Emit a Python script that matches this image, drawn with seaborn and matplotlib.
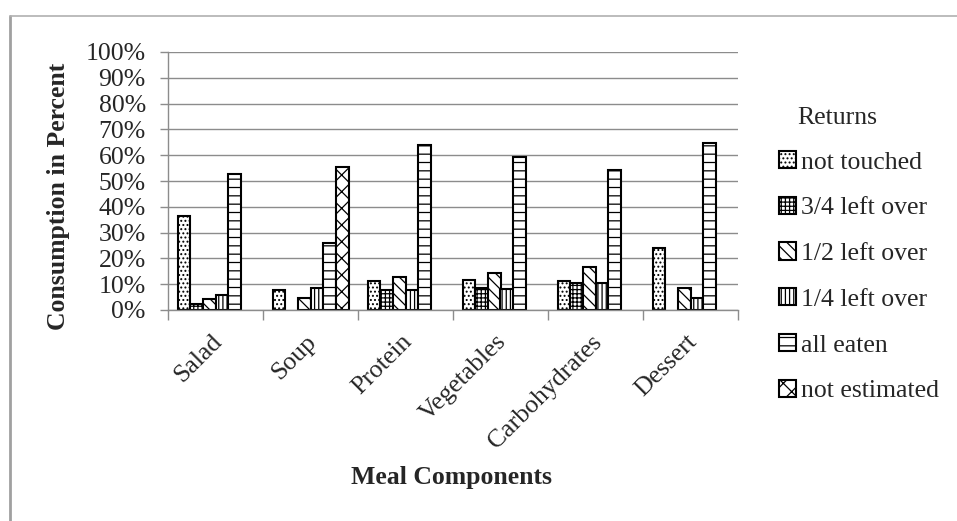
import matplotlib
matplotlib.use("Agg")
import matplotlib.pyplot as plt
import matplotlib.transforms as mtransforms
import seaborn as sns
import pandas as pd
from matplotlib.patches import Patch
from matplotlib.lines import Line2D
from matplotlib.ticker import FixedLocator

# ---- data (percent) ----
components = ["Salad", "Soup", "Protein", "Vegetables", "Carbohydrates", "Dessert"]
returns = ["not touched", "3/4 left over", "1/2 left over", "1/4 left over",
           "all eaten", "not estimated"]
not_touched = [36.5, 7.7, 11.3, 11.6, 11.2, 24.1]
three_quarters_left = [2.5, 0, 7.8, 8.7, 10.3, 0]
half_left = [4.3, 4.6, 12.8, 14.3, 16.6, 8.7]
quarter_left = [5.8, 8.7, 7.8, 8.0, 10.3, 4.8]
all_eaten = [52.7, 26.0, 63.9, 59.4, 54.1, 64.6]
not_estimated = [0, 55.3, 0, 0, 0, 0]
y_tick_values = list(range(0, 101, 10))
y_tick_labels = [f"{v}%" for v in y_tick_values]

series = [not_touched, three_quarters_left, half_left, quarter_left, all_eaten, not_estimated]
rows = []
for r, vals in zip(returns, series):
    for c, v in zip(components, vals):
        rows.append({"component": c, "returns": r, "value": v})
df = pd.DataFrame(rows)

hatches = ['....', '++++', '\\\\\\', '||||', '--', 'xx']

sns.set_style("white")
plt.rcParams['font.family'] = ['Liberation Serif', 'DejaVu Serif']
plt.rcParams['hatch.color'] = 'black'
plt.rcParams['hatch.linewidth'] = 0.9

FS = 18.5
W, H = 957, 521
fig = plt.figure(figsize=(W / 100, H / 100), dpi=100)
ax = fig.add_axes([168 / W, 1 - 310 / H, (738 - 168) / W, (310 - 52) / H])

sns.barplot(data=df, x="component", y="value", hue="returns", order=components,
            hue_order=returns, palette=['white'] * 6, edgecolor='black',
            linewidth=1.5, width=0.8, legend=False, ax=ax, errorbar=None)

for cont, h in zip(ax.containers, hatches):
    for bar in cont:
        bar.set_hatch(h)
        if bar.get_height() == 0:
            bar.set_visible(False)

ax.set_ylim(0, 100)
ax.set_xlim(-0.5, 5.5)
ax.set_yticks(y_tick_values)
ax.set_yticklabels(y_tick_labels, fontsize=FS)
ax.yaxis.grid(True, color='#8c8c8c', linewidth=1.0)
ax.set_axisbelow(True)

for s in ['top', 'right']:
    ax.spines[s].set_visible(False)
for s in ['left', 'bottom']:
    ax.spines[s].set_color('#8c8c8c')
    ax.spines[s].set_linewidth(1.0)

ax.tick_params(axis='y', which='major', length=6, color='#8c8c8c', width=1.0,
               direction='out', pad=10, left=True)
ax.set_xticks(range(len(components)))
ax.set_xticklabels(components, rotation=45, ha='right', rotation_mode='anchor', fontsize=FS)
ax.tick_params(axis='x', which='major', length=0, pad=15)
offset = mtransforms.ScaledTranslation(-5 / 100, 0, fig.dpi_scale_trans)
for lbl in ax.get_xticklabels():
    lbl.set_transform(lbl.get_transform() + offset)
ax.xaxis.set_minor_locator(FixedLocator([i - 0.5 for i in range(len(components) + 1)]))
ax.tick_params(axis='x', which='minor', length=7, color='#8c8c8c', width=1.0,
               direction='out', bottom=True)

ax.set_xlabel("Meal Components", fontsize=FS, fontweight='bold')
ax.xaxis.set_label_coords(0.4965, -0.605)
ax.xaxis.label.set_va('top')
ax.set_ylabel("Consumption in Percent", fontsize=FS, fontweight='bold')
ax.yaxis.set_label_coords(-0.172, 0.44)

handles = [Patch(facecolor='white', edgecolor='black', hatch=h, linewidth=1.5) for h in hatches]
fig.legend(handles, returns, loc='upper left', bbox_to_anchor=(779 / W, 1 - 151 / H),
           bbox_transform=fig.transFigure, frameon=False, fontsize=FS,
           handlelength=0.65, handleheight=0.65, handletextpad=0.2,
           labelspacing=0.9, borderpad=0, borderaxespad=0)
fig.text(837 / W, 1 - 118 / H, "Returns", ha='center', va='center', fontsize=FS)

# outer frame (left and top edges visible)
fig.add_artist(Line2D([10 / W, 10 / W], [0, 1 - 16 / H], transform=fig.transFigure,
                      color='#a0a0a0', linewidth=2))
fig.add_artist(Line2D([10 / W, 1], [1 - 16 / H, 1 - 16 / H], transform=fig.transFigure,
                      color='#b0b0b0', linewidth=1.2))

fig.savefig("out.png", dpi=100)
